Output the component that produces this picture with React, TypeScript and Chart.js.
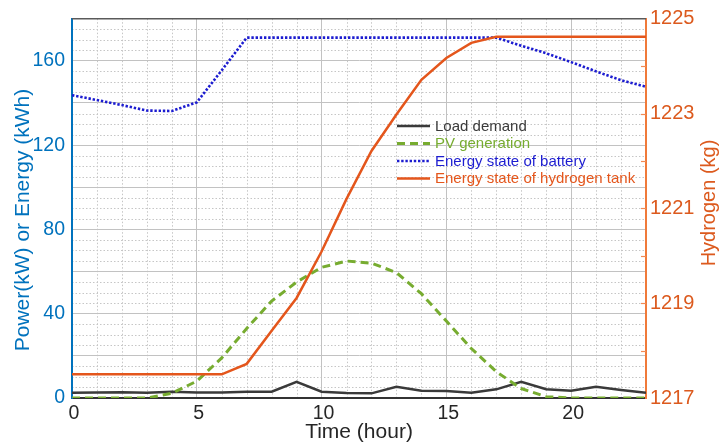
import React, { useEffect, useRef } from 'react';
import { Chart, registerables } from 'chart.js';

Chart.register(...registerables);

// ---- data ----
const hours = [0, 1, 2, 3, 4, 5, 6, 7, 8, 9, 10, 11, 12, 13, 14, 15, 16, 17, 18, 19, 20, 21, 22, 23];
const loadDemand = [2.5, 2.6, 2.7, 2.5, 3.0, 2.6, 2.6, 3.0, 3.0, 7.7, 3.0, 2.4, 2.2, 5.3, 3.4, 3.3, 2.5, 4.1, 7.7, 4.2, 3.4, 5.3, 3.8, 2.5];
const pvGeneration = [0, 0, 0, 0, 2.2, 8, 19, 33, 46, 55, 62, 65, 64, 59.5, 49.5, 36.5, 23.5, 12.5, 4.5, 0.6, 0, 0, 0, 0];
const batteryEnergy = [143.7, 141.4, 139, 136.4, 136.2, 140.3, 155.5, 171, 171, 171, 171, 171, 171, 171, 171, 171, 171, 171, 167.2, 163.6, 159.4, 155, 150.8, 147.7];
const hydrogenTank = [1217.5, 1217.5, 1217.5, 1217.5, 1217.5, 1217.5, 1217.5, 1217.72, 1218.42, 1219.11, 1220.09, 1221.2, 1222.21, 1222.98, 1223.71, 1224.17, 1224.49, 1224.62, 1224.62, 1224.62, 1224.62, 1224.62, 1224.62, 1224.62];

const seriesLabels = ['Load demand', 'PV generation', 'Energy state of battery', 'Energy state of hydrogen tank'];

const xTicks = [0, 5, 10, 15, 20];
const yGridTicks = [0, 20, 40, 60, 80, 100, 120, 140, 160, 180];
const yLabelTicks = [0, 40, 80, 120, 160];
const y2Ticks = [1217, 1219, 1221, 1223, 1225];

const xTitle = 'Time (hour)';
const yTitle = 'Power(kW) or Energy (kWh)';
const y2Title = 'Hydrogen (kg)';

// ---- styles ----
const FONT = '"Liberation Sans", Arial, Helvetica, sans-serif';
const C_LOAD = '#3a3a3a';
const C_PV = '#77ac30';
const C_BAT = '#1c1cd0';
const C_H2 = '#e4561c';
const C_LEFT = '#0072bd';
const C_RIGHT = '#dc5a1e';

const toXY = (arr: number[]) => hours.map((h, i) => ({ x: h, y: arr[i] }));

const decor = {
  id: 'decor',
  beforeDraw(chart: any) {
    const { ctx, chartArea: a, scales } = chart;
    const x = scales.x;
    const y = scales.y;
    ctx.save();
    ctx.strokeStyle = '#c6c6c6';
    ctx.lineWidth = 1;
    ctx.setLineDash([1.5, 2]);
    for (let h = 1; h < 23; h++) {
      if (h % 5 === 0) continue;
      const px = Math.round(x.getPixelForValue(h)) + 0.5;
      ctx.beginPath();
      ctx.moveTo(px, a.top);
      ctx.lineTo(px, a.bottom);
      ctx.stroke();
    }
    for (let v = 5; v < 180; v += 5) {
      if (v % 20 === 0) continue;
      const py = Math.round(y.getPixelForValue(v)) + 0.5;
      ctx.beginPath();
      ctx.moveTo(a.left, py);
      ctx.lineTo(a.right, py);
      ctx.stroke();
    }
    ctx.restore();
  },
  afterDraw(chart: any) {
    const { ctx, chartArea: a, scales } = chart;
    const y2 = scales.y2;
    ctx.save();
    // top frame
    ctx.strokeStyle = '#5a5a5a';
    ctx.lineWidth = 1.5;
    ctx.beginPath();
    ctx.moveTo(a.left, a.top);
    ctx.lineTo(a.right, a.top);
    ctx.stroke();
    // inner ticks on right axis
    ctx.strokeStyle = '#f08a55';
    ctx.lineWidth = 1.2;
    for (let v = 1218; v < 1225; v++) {
      const py = Math.round(y2.getPixelForValue(v)) + 0.5;
      ctx.beginPath();
      ctx.moveTo(a.right - 5, py);
      ctx.lineTo(a.right, py);
      ctx.stroke();
    }
    // axis titles
    ctx.textAlign = 'center';
    ctx.textBaseline = 'middle';
    ctx.fillStyle = '#262626';
    ctx.font = `21px ${FONT}`;
    ctx.fillText(xTitle, (a.left + a.right) / 2, 432);
    ctx.save();
    ctx.translate(23, 220);
    ctx.rotate(-Math.PI / 2);
    ctx.fillStyle = C_LEFT;
    ctx.font = `21px ${FONT}`;
    ctx.fillText(yTitle, 0, 0);
    ctx.restore();
    ctx.save();
    ctx.translate(709, 203);
    ctx.rotate(-Math.PI / 2);
    ctx.fillStyle = C_RIGHT;
    ctx.font = `20px ${FONT}`;
    ctx.fillText(y2Title, 0, 0);
    ctx.restore();
    // legend
    const lx = 397;
    const lw = 33;
    const tx = 435;
    const rows = [126, 143.5, 161, 178.5];
    const legendText = [C_LOAD, C_PV, C_BAT, C_H2];
    chart.data.datasets.forEach((ds: any, i: number) => {
      const yy = rows[i];
      ctx.strokeStyle = ds.borderColor;
      ctx.lineWidth = ds.borderWidth;
      ctx.setLineDash(ds.borderDash || []);
      ctx.beginPath();
      ctx.moveTo(lx, yy);
      ctx.lineTo(lx + lw, yy);
      ctx.stroke();
      ctx.setLineDash([]);
      ctx.fillStyle = legendText[i];
      ctx.font = `15px ${FONT}`;
      ctx.textAlign = 'left';
      ctx.fillText(ds.label, tx, yy + 0.5);
    });
    ctx.restore();
  },
};

export default function App() {
  const ref = useRef<HTMLCanvasElement>(null);
  useEffect(() => {
    if (!ref.current) return;
    const chart = new Chart(ref.current, {
      type: 'line',
      data: {
        datasets: [
          {
            label: seriesLabels[0],
            data: toXY(loadDemand),
            borderColor: C_LOAD,
            borderWidth: 2.5,
            pointRadius: 0,
            yAxisID: 'y',
            order: 2,
          },
          {
            label: seriesLabels[1],
            data: toXY(pvGeneration),
            borderColor: C_PV,
            borderWidth: 3,
            borderDash: [8, 5],
            pointRadius: 0,
            yAxisID: 'y',
            order: 1,
          },
          {
            label: seriesLabels[2],
            data: toXY(batteryEnergy),
            borderColor: C_BAT,
            borderWidth: 2.6,
            borderDash: [2.4, 1.8],
            pointRadius: 0,
            yAxisID: 'y',
            order: 3,
          },
          {
            label: seriesLabels[3],
            data: toXY(hydrogenTank),
            borderColor: C_H2,
            borderWidth: 2.5,
            pointRadius: 0,
            yAxisID: 'y2',
            order: 0,
          },
        ],
      },
      options: {
        responsive: false,
        animation: false,
        layout: { padding: { top: 15, left: 0, right: 0, bottom: 0 } },
        plugins: { legend: { display: false }, tooltip: { enabled: false } },
        scales: {
          x: {
            type: 'linear',
            min: 0,
            max: 23,
            afterBuildTicks: (axis: any) => {
              axis.ticks = xTicks.map((v) => ({ value: v }));
            },
            afterFit: (s: any) => {
              s.height = 46;
            },
            grid: { color: '#c2c2c2', lineWidth: 1, drawTicks: false },
            border: { color: '#333333', width: 2 },
            ticks: {
              color: '#262626',
              font: { family: FONT, size: 19.5 },
              padding: 4,
              labelOffset: 2,
              maxRotation: 0,
              callback: (v: any) => String(v),
            },
          },
          y: {
            type: 'linear',
            position: 'left',
            min: 0,
            max: 180,
            afterBuildTicks: (axis: any) => {
              axis.ticks = yGridTicks.map((v) => ({ value: v }));
            },
            afterFit: (s: any) => {
              s.width = 72;
            },
            grid: { color: '#c2c2c2', lineWidth: 1, drawTicks: false },
            border: { color: C_LEFT, width: 2 },
            ticks: {
              color: C_LEFT,
              font: { family: FONT, size: 19.5 },
              padding: 7,
              autoSkip: false,
              callback: (v: any) => (yLabelTicks.includes(Number(v)) ? String(v) : ''),
            },
          },
          y2: {
            type: 'linear',
            position: 'right',
            min: 1217,
            max: 1225,
            afterBuildTicks: (axis: any) => {
              axis.ticks = y2Ticks.map((v) => ({ value: v }));
            },
            afterFit: (s: any) => {
              s.width = 75;
            },
            grid: { display: false, drawTicks: false },
            border: { color: '#f07a3a', width: 2 },
            ticks: {
              color: C_RIGHT,
              font: { family: FONT, size: 20 },
              padding: 4,
              autoSkip: false,
              callback: (v: any) => String(v),
            },
          },
        },
      },
      plugins: [decor],
    } as any);
    return () => chart.destroy();
  }, []);

  return (
    <div style={{ position: 'absolute', left: 0, top: 0, width: 721, height: 444, background: '#ffffff' }}>
      <canvas ref={ref} width={721} height={444} style={{ display: 'block' }} />
    </div>
  );
}
